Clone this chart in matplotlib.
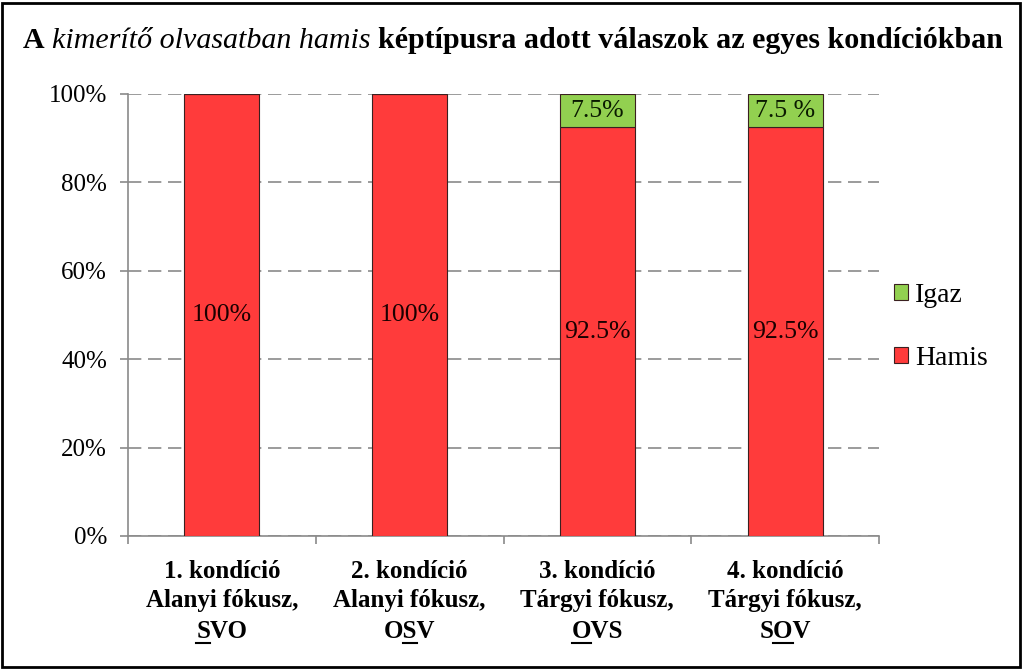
import matplotlib
matplotlib.use("Agg")
import matplotlib.pyplot as plt
from matplotlib.patches import Patch, Rectangle
from matplotlib.lines import Line2D
import numpy as np

# ---- data ----
cond_line1 = ["1. kondíció", "2. kondíció", "3. kondíció", "4. kondíció"]
cond_line2 = ["Alanyi fókusz,", "Alanyi fókusz,", "Tárgyi fókusz,", "Tárgyi fókusz,"]
cond_line3 = ["SVO", "OSV", "OVS", "SOV"]
underline_idx = [0, 1, 0, 1]
hamis = [100, 100, 92.5, 92.5]
igaz = [0, 0, 7.5, 7.5]
hamis_labels = ["100%", "100%", "92.5%", "92.5%"]
igaz_labels = ["", "", "7.5%", "7.5 %"]
yticks = [0, 20, 40, 60, 80, 100]
ytick_labels = ["0%", "20%", "40%", "60%", "80%", "100%"]
series_names = ["Igaz", "Hamis"]
title_parts = [("A", "bold", "normal"),
               ("kimerítő olvasatban hamis", "normal", "italic"),
               ("képtípusra adott válaszok az egyes kondíciókban", "bold", "normal")]

RED = "#FF3B3B"
GREEN = "#92D050"
EDGE = "#3a2020"
FONT = "Liberation Serif"
W, H = 1024, 669

plt.rcParams['font.family'] = [FONT, 'DejaVu Serif']
fig = plt.figure(figsize=(W / 100, H / 100), dpi=100)
ax = fig.add_axes([128 / W, 1 - 536 / H, (879 - 128) / W, (536 - 94) / H])

x = np.arange(len(hamis))
bw = 0.4
ax.bar(x, hamis, bw, color=RED, edgecolor=EDGE, linewidth=0.8, zorder=3)
ax.bar(x, igaz, bw, bottom=hamis, color=GREEN, edgecolor=EDGE, linewidth=0.8, zorder=3)

for i in range(len(x)):
    ax.text(x[i], hamis[i] / 2, hamis_labels[i], ha="center", va="center",
            fontsize=18.5, color="#1a0000", zorder=4)
    if igaz[i] > 0:
        ax.text(x[i], hamis[i] + igaz[i] / 2, igaz_labels[i], ha="center", va="center",
                fontsize=18.5, color="#0a1a00", zorder=4)

ax.set_xlim(-0.5, 3.5)
ax.set_ylim(0, 100)
ax.set_yticks(yticks)
ax.set_yticklabels(ytick_labels, fontsize=18)
ax.yaxis.grid(True, color="#8a8a8a", linewidth=1.2, linestyle=(0, (8, 4)), zorder=0)
ax.set_axisbelow(True)
ax.tick_params(axis="y", direction="out", length=6, color="#8a8a8a", width=1.2, pad=9)
ax.set_xticks([-0.5, 0.5, 1.5, 2.5, 3.5])
ax.set_xticklabels([])
ax.tick_params(axis="x", direction="out", length=6, color="#8a8a8a", width=1.2)
for s in ["top", "right"]:
    ax.spines[s].set_visible(False)
for s in ["left", "bottom"]:
    ax.spines[s].set_color("#8a8a8a")
    ax.spines[s].set_linewidth(1.2)

# ---- x labels (three lines, with underlined letter) ----
renderer = fig.canvas.get_renderer()

def text_width(s, **kw):
    t = fig.text(0, 0, s, **kw)
    bb = t.get_window_extent(renderer)
    t.remove()
    return bb.width

lab_fs = 18
lab_kw = dict(fontsize=lab_fs, fontweight="bold", family=FONT)
ys = [571, 601, 632]
for i in range(len(x)):
    cx_disp = ax.transData.transform((x[i], 0))[0]
    for line, yy in zip([cond_line1[i], cond_line2[i], cond_line3[i]], ys):
        fig.text(cx_disp / W, 1 - yy / H, line, ha="center", va="center", **lab_kw)
    s = cond_line3[i]
    k = underline_idx[i]
    full_w = text_width(s, **lab_kw)
    pre_w = text_width(s[:k] + "|", **lab_kw) - text_width("|", **lab_kw) if k > 0 else 0
    ch_w = text_width(s[k], **lab_kw)
    left = cx_disp - full_w / 2 + pre_w
    uy = H - (ys[2] + 11)
    fig.add_artist(Line2D([left / W, (left + ch_w) / W], [uy / H, uy / H],
                          transform=fig.transFigure, color="black", linewidth=1.5))

# ---- legend ----
handles = [Patch(facecolor=GREEN, edgecolor=EDGE, linewidth=0.8),
           Patch(facecolor=RED, edgecolor=EDGE, linewidth=0.8)]
fig.legend(handles, series_names, loc="center left",
           bbox_to_anchor=(869 / W, 1 - 327 / H), frameon=False,
           prop={"family": FONT, "size": 20}, handlelength=0.5, handleheight=0.5,
           handletextpad=0.25, labelspacing=1.35)

# ---- title with mixed styles ----
t_fs = 21.6
sp_w = text_width("a a", fontsize=t_fs, fontweight="bold") - text_width("aa", fontsize=t_fs, fontweight="bold")
widths = [text_width(p, fontsize=t_fs, fontweight=w, fontstyle=st) for p, w, st in title_parts]
total = sum(widths) + sp_w * (len(widths) - 1)
cur = 513 - total / 2
for (p, w, st), pw in zip(title_parts, widths):
    fig.text(cur / W, 1 - 41 / H, p, ha="left", va="center", fontsize=t_fs,
             fontweight=w, fontstyle=st)
    cur += pw + sp_w

# ---- border ----
fig.add_artist(Rectangle((2 / W, 2 / H), (W - 6) / W, (H - 5) / H, transform=fig.transFigure,
                         fill=False, edgecolor="black", linewidth=2))

fig.savefig("out.png", dpi=100)
